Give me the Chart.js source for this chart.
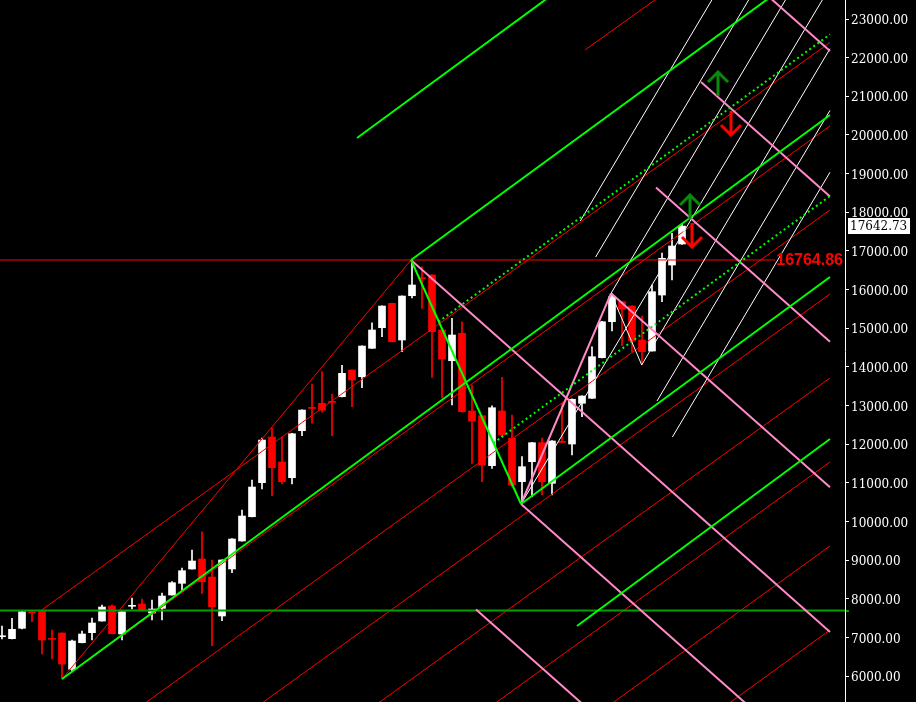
<!DOCTYPE html>
<html>
<head>
<meta charset="utf-8">
<script src="https://cdn.jsdelivr.net/npm/chart.js@4"></script>
<style>
  html, body { margin: 0; padding: 0; background: #000; }
  canvas { display: block; }
</style>
</head>
<body>
<canvas id="chart" width="916" height="702"></canvas>
<script>
// weekly bars (bar index 0 = first bar on the left)
const opens  = [7018, 6967, 7236, 7645, 7691, 6965, 7114, 6175, 6863, 7122, 7424, 7813, 7088, 7805, 7864, 7631, 7753, 8097, 8400, 8770,
                9029, 8563, 7554, 8770, 9494, 10123, 11003, 12185, 11538, 11132, 12348, 12935, 13057, 13090, 13228, 13918, 13745, 14480, 15013, 15644,
                14695, 15841, 16300, 16377, 14954, 14159, 14868, 12858, 12736, 11443, 12858, 12152, 11029, 11546, 12038, 10987, 12060, 12004, 13057, 13187,
                14237, 15168, 15686, 15574, 14695, 14410, 15859, 16635, 17179];
const highs  = [7295, 7494, 7680, 7665, 7700, 7192, 7120, 6933, 7166, 7502, 7838, 7846, 7670, 8020, 7994, 7968, 8149, 8442, 8796, 9261,
                9735, 9003, 9010, 9555, 10296, 11072, 12159, 12418, 12185, 12280, 12890, 13556, 13874, 13297, 14040, 13925, 14545, 15142, 15580, 15650,
                15840, 16764.86, 16591, 16390, 14960, 15256, 15168, 13531, 12740, 12995, 13730, 12755, 11676, 12045, 12159, 12090, 13057, 13170, 13250, 14521,
                15175, 15903, 15690, 15580, 15316, 16118, 16946, 17456, 17714];
const lows   = [6959, 6959, 7217, 7406, 6571, 6441, 5924, 6140, 6855, 6933, 7420, 7090, 6933, 7735, 7685, 7450, 7450, 8090, 8226, 8765,
                8141, 6785, 7432, 8674, 9490, 10115, 10840, 10666, 10969, 10969, 12219, 12540, 12830, 12219, 13220, 12969, 13461, 14475, 14780, 14645,
                14392, 15781, 15515, 13730, 13194, 13013, 12830, 11505, 11029, 11375, 12193, 10891, 10452, 10641, 10685, 10685, 12030, 11720, 12711, 13180,
                14230, 14928, 14548, 14392, 14050, 14405, 15686, 16247, 17170];
const closes = [7030, 7210, 7665, 7635, 6933, 6950, 6312, 6907, 7088, 7373, 7787, 7096, 7665, 7815, 7691, 7735, 8071, 8415, 8726, 8977,
                8441, 7794, 9003, 9546, 10141, 10891, 12107, 11391, 11028, 12270, 12883, 12925, 12883, 13080, 13833, 13660, 14539, 14954, 15574, 14650,
                15833, 16118, 16285, 14910, 14203, 14824, 12840, 12599, 11461, 12943, 12237, 10943, 11417, 12038, 11029, 12082, 12045, 13161, 13246, 14263,
                15168, 15815, 15489, 14677, 14392, 15945, 16809, 17127, 17642.73];

const priceTicks = [6000, 7000, 8000, 9000, 10000, 11000, 12000, 13000, 14000, 15000, 16000, 17000, 18000, 19000, 20000, 21000, 22000, 23000];
const markedHigh = 16764.86;
const lastClose = 17642.73;
const supportLevel = 7696;

// drawn objects as [bar1, price1, bar2, price2]
const greenSolid = [
  [35.5, 19921, 55.8, 23776],
  [40.9, 16765, 77.8, 23750],
  [6.0, 5924, 82.8, 20516],
  [51.9, 10452, 82.8, 16325],
  [57.5, 7295, 82.8, 12134],
  [40.9, 16765, 51.9, 10452]
];
const greenDotted = [
  [43.65, 15167, 82.8, 22602],
  [49.15, 12030, 82.8, 18420]
];
const pinkLines = [
  [40.9, 16765, 82.8, 7140],
  [51.9, 10452, 82.8, 3360],
  [47.4, 7722, 59.8, 4876],
  [60.9, 15903, 82.8, 10884],
  [65.4, 18640, 82.8, 14648],
  [69.9, 21370, 82.8, 18410],
  [74.4, 24100, 82.8, 22172],
  [51.9, 10452, 60.9, 15903]
];
const redLines = [
  [6.0, 5924, 40.9, 16765],
  [-0.2, 16765, 77.3, 16765],
  [3.97, 7709, 82.8, 22395],
  [6.0, 5924, 82.8, 20232],
  [13.8, 5205, 82.8, 18058],
  [25.8, 5267, 82.8, 15885],
  [37.5, 5277, 82.8, 13712],
  [49.2, 5277, 82.8, 11538],
  [60.9, 5277, 82.8, 9365],
  [72.6, 5277, 82.8, 7192],
  [58.3, 22198, 65.5, 23530]
];
const whiteLines = [
  [57.83, 17774, 71.28, 23621],
  [59.36, 16842, 74.96, 23621],
  [60.9, 15903, 78.64, 23621],
  [51.9, 10452, 82.33, 23621],
  [63.97, 14050, 82.8, 22232],
  [65.5, 13117, 82.8, 20635],
  [67.04, 12185, 82.8, 19036],
  [60.9, 15903, 63.97, 14050]
];
const upArrows = [[68.8, 18162], [71.6, 21344]];
const downArrows = [[69.0, 17385], [72.9, 20283]];

const bull = closes.map((c, i) => c >= opens[i]);
const candleColors = bull.map(b => b ? "#ffffff" : "#ff0000");

function seg(s, color, width, dash, order) {
  return {
    type: "line",
    data: [{ x: s[0], y: s[1] }, { x: s[2], y: s[3] }],
    borderColor: color,
    borderWidth: width,
    borderDash: dash || [],
    pointRadius: 0,
    tension: 0,
    fill: false,
    order: order || 1
  };
}

function arrowImage(color, up) {
  const c = document.createElement("canvas");
  c.width = 24; c.height = 26;
  const g = c.getContext("2d");
  g.strokeStyle = color;
  g.lineWidth = 3;
  g.beginPath();
  if (up) {
    g.moveTo(12, 2); g.lineTo(12, 26);
    g.moveTo(2, 12); g.lineTo(12, 2); g.lineTo(22, 12);
  } else {
    g.moveTo(12, 0); g.lineTo(12, 24);
    g.moveTo(2, 14); g.lineTo(12, 24); g.lineTo(22, 14);
  }
  g.stroke();
  return c;
}

const datasets = [];

greenSolid.forEach(s => datasets.push(seg(s, "#00ff00", 2)));
greenDotted.forEach(s => datasets.push(seg(s, "#00ff00", 2, [2, 3])));
pinkLines.forEach(s => datasets.push(seg(s, "#ff8ac8", 2)));
whiteLines.forEach(s => datasets.push(seg(s, "#ffffff", 1, null, 2)));
redLines.forEach(s => datasets.push(seg(s, "#ff0000", 1, null, 3)));
datasets.push(seg([-0.2, supportLevel, 84.3, supportLevel], "#00a000", 2));

datasets.push({
  type: "scatter",
  data: upArrows.map(p => ({ x: p[0], y: p[1] })),
  pointStyle: arrowImage("#0a8a0a", true),
  order: 0
});
datasets.push({
  type: "scatter",
  data: downArrows.map(p => ({ x: p[0], y: p[1] })),
  pointStyle: arrowImage("#ff0000", false),
  order: 0
});

// wicks then bodies
datasets.push({
  type: "bar",
  data: highs.map((h, i) => ({ x: i, y: [lows[i], h] })),
  backgroundColor: candleColors,
  barThickness: 1,
  grouped: false,
  order: 11
});
datasets.push({
  type: "bar",
  data: opens.map((o, i) => ({ x: i, y: [o, closes[i]] })),
  backgroundColor: candleColors,
  barThickness: 7,
  minBarLength: 1,
  grouped: false,
  order: 10
});

const overlay = {
  id: "overlay",
  afterDraw(chart) {
    const { ctx, chartArea, scales: { y } } = chart;
    ctx.save();
    ctx.font = "bold 16px 'Liberation Sans', Arial, sans-serif";
    ctx.fillStyle = "#ff0000";
    ctx.textAlign = "right";
    ctx.textBaseline = "middle";
    ctx.fillText(markedHigh.toFixed(2), chartArea.right - 2, y.getPixelForValue(markedHigh) + 1);

    const py = Math.round(y.getPixelForValue(lastClose));
    ctx.fillStyle = "#ffffff";
    ctx.fillRect(chartArea.right + 3, py - 8, 62, 16);
    ctx.fillStyle = "#000000";
    ctx.font = "12px 'DejaVu Serif', serif";
    ctx.textAlign = "left";
    ctx.fillText(lastClose.toFixed(2), chartArea.right + 5, py + 1);

    ctx.fillStyle = "#00a000";
    ctx.fillRect(chartArea.right + 1, Math.round(y.getPixelForValue(supportLevel)) - 1, 3, 2);
    ctx.restore();
  }
};

new Chart(document.getElementById("chart"), {
  type: "bar",
  data: { datasets },
  options: {
    responsive: false,
    animation: false,
    events: [],
    devicePixelRatio: 1,
    layout: { padding: 0, autoPadding: false },
    plugins: { legend: { display: false }, tooltip: { enabled: false } },
    scales: {
      x: { type: "linear", min: -0.2, max: 84.3, offset: false, display: false },
      y: {
        position: "right",
        min: 5329,
        max: 23492,
        afterBuildTicks: s => { s.ticks = priceTicks.map(v => ({ value: v })); },
        afterFit: s => { s.width = 71; s.paddingTop = 0; s.paddingBottom = 0; },
        ticks: {
          color: "#ffffff",
          padding: 2,
          labelOffset: 2,
          font: { family: "'DejaVu Serif', serif", size: 12 },
          callback: v => Number(v).toFixed(2)
        },
        grid: { drawOnChartArea: false, color: "#ffffff", tickLength: 4 },
        border: { color: "#ffffff" }
      }
    }
  },
  plugins: [overlay]
});
</script>
</body>
</html>
